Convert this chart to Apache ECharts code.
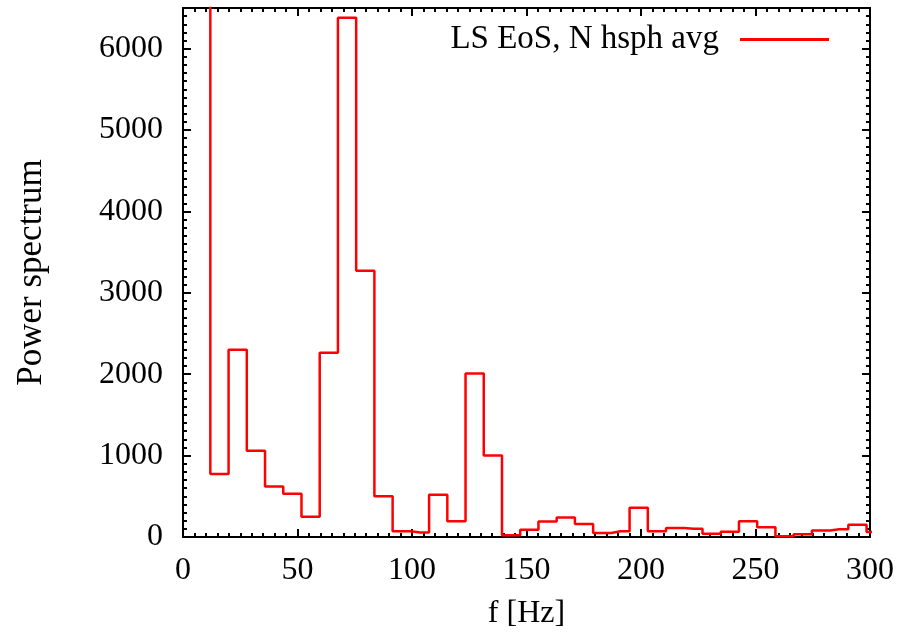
<!DOCTYPE html>
<html lang="en">
<head>
    <meta charset="UTF-8">
    <title>Power spectrum</title>
    <script src="https://cdn.jsdelivr.net/npm/echarts@6/dist/echarts.min.js"></script>
    <style>
        html, body { margin: 0; padding: 0; background: #fff; }
        #main { width: 904px; height: 639px; }
    </style>
</head>
<body>
    <div id="main"></div>
<script>
    // frequencies of the bins (Hz), centres of the histogram steps
    var freqs = [7.96, 15.92, 23.88, 31.84, 39.80, 47.76, 55.72, 63.68, 71.64, 79.60,
                 87.56, 95.52, 103.48, 111.44, 119.40, 127.36, 135.32, 143.28, 151.24, 159.20,
                 167.16, 175.12, 183.08, 191.04, 199.00, 206.96, 214.92, 222.88, 230.84, 238.80,
                 246.76, 254.72, 262.68, 270.64, 278.60, 286.56, 294.52, 302.48];
    // power per bin (first one runs off the top of the plot)
    var power = [9000, 775, 2300, 1060, 620, 530, 250, 2265, 6380, 3270,
                 500, 70, 55, 520, 195, 2010, 1000, 20, 90, 190,
                 240, 160, 50, 70, 360, 70, 110, 100, 40, 65,
                 195, 120, 10, 35, 80, 95, 150, 60];
    var seriesName = 'LS EoS, N hsph avg';

    var font = 'Liberation Serif';
    var data = [];
    for (var i = 0; i < freqs.length; i++) {
        data.push([freqs[i], power[i]]);
    }

    var myChart = echarts.init(document.getElementById('main'));

    function plain(v) { return String(v); }

    function xAx(pos, show) {
        return {
            type: 'value', position: pos, min: 0, max: 300, interval: 50,
            axisLine: { show: true, onZero: false, lineStyle: { color: '#000', width: 2 } },
            axisTick: { show: true, inside: true, length: 8, lineStyle: { color: '#000', width: 2 } },
            minorTick: { show: true, splitNumber: 10, length: 4, lineStyle: { color: '#000', width: 2 } },
            splitLine: { show: false },
            axisLabel: { show: show, formatter: plain, fontFamily: font, fontSize: 32, color: '#000', margin: 18 },
            name: show ? 'f [Hz]' : '',
            nameLocation: 'middle', nameGap: 61,
            nameTextStyle: { fontFamily: font, fontSize: 32, color: '#000' }
        };
    }
    function yAx(pos, step, len, show) {
        return {
            type: 'value', position: pos, min: 0, max: 6500, interval: step,
            axisLine: { show: true, onZero: false, lineStyle: { color: '#000', width: 2 } },
            axisTick: { show: true, inside: true, length: len, lineStyle: { color: '#000', width: 2 } },
            splitLine: { show: false },
            axisLabel: { show: show, showMaxLabel: false, formatter: plain, fontFamily: font, fontSize: 32, color: '#000', margin: 20 },
            name: show ? 'Power spectrum' : '',
            nameLocation: 'middle', nameGap: 134,
            nameTextStyle: { fontFamily: font, fontSize: 35, color: '#000' }
        };
    }

    var option = {
        animation: false,
        backgroundColor: '#fff',
        grid: { left: 183, right: 34, top: 8, bottom: 102 },
        legend: {
            data: [{ name: seriesName, icon: 'rect' }],
            right: 70, top: 18,
            align: 'right',
            itemWidth: 89, itemHeight: 3,
            textStyle: { fontFamily: font, fontSize: 33, color: '#000', padding: [0, 16, 0, 0] }
        },
        xAxis: [xAx('bottom', true), xAx('top', false)],
        yAxis: [yAx('left', 1000, 8, true), yAx('left', 100, 4, false),
                yAx('right', 1000, 8, false), yAx('right', 100, 4, false)],
        series: [{
            name: seriesName,
            type: 'line',
            step: 'middle',
            data: data,
            xAxisIndex: 0,
            yAxisIndex: 0,
            symbol: 'none',
            clip: true,
            color: '#ff0000',
            lineStyle: { color: '#ff0000', width: 2.5 }
        }]
    };

    myChart.setOption(option);
</script>
</body>
</html>
